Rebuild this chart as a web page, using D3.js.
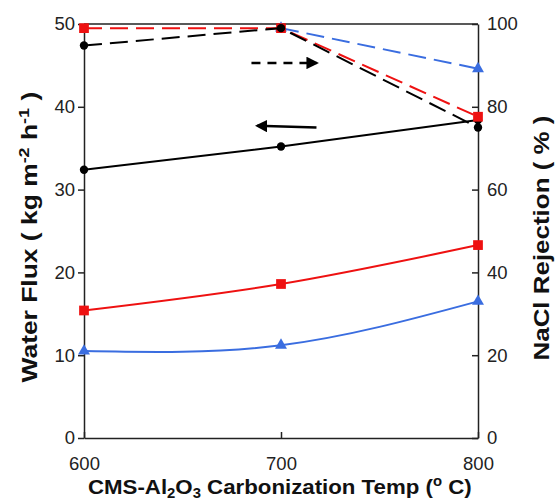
<!DOCTYPE html>
<html lang="en">
<head>
    <meta charset="UTF-8">
    <title>Water Flux and NaCl Rejection</title>
    <script src="https://d3js.org/d3.v7.min.js"></script>
    <style>
        body {
            margin: 0;
            padding: 0;
            background: #fff;
            font-family: "Liberation Sans", Arial, sans-serif;
        }
        svg {
            display: block;
        }
        .tick text {
            font-size: 18.5px;
            fill: #222;
        }
        .axis path,
        .axis line {
            stroke: #222;
            stroke-width: 1.5px;
        }
        .title {
            font-weight: bold;
            fill: #111;
        }
    </style>
</head>
<body>
    <svg id="chart" width="555" height="502"></svg>

    <script>
        // temperatures (x)
        const temps = [600, 700, 800];

        // water flux (left axis, solid lines)
        const fluxBlack = [32.4, 35.2, 38.4];
        const fluxRed = [15.4, 18.6, 23.3];
        const fluxBlue = [10.5, 11.2, 16.5];

        // NaCl rejection (right axis, dashed lines)
        const rejBlack = [94.8, 99.0, 75.0];
        const rejRed = [99.0, 99.0, 77.6];
        const rejBlue = [null, 99.0, 89.2];

        const fluxTicks = [0, 10, 20, 30, 40, 50];
        const rejTicks = [0, 20, 40, 60, 80, 100];

        const colors = { black: "#000000", red: "#ee1111", blue: "#3a6de0" };

        const svg = d3.select("#chart");
        const margin = { top: 24, right: 77, bottom: 64, left: 84 };
        const W = 555, H = 502;
        const width = W - margin.left - margin.right;
        const height = H - margin.top - margin.bottom;

        const g = svg.append("g")
            .attr("transform", `translate(${margin.left},${margin.top})`);

        const x = d3.scaleLinear().domain([600, 800]).range([0, width]);
        const yL = d3.scaleLinear().domain([0, 50]).range([height, 0]);
        const yR = d3.scaleLinear().domain([0, 100]).range([height, 0]);

        // top frame line
        g.append("line")
            .attr("x1", 0).attr("x2", width)
            .attr("y1", 0).attr("y2", 0)
            .attr("stroke", "#222").attr("stroke-width", 1.5);

        // axes
        g.append("g")
            .attr("class", "axis")
            .attr("transform", `translate(0,${height})`)
            .call(d3.axisBottom(x).tickValues(temps).tickSizeOuter(0))
            .call(a => a.selectAll(".tick line").attr("y2", -6))
            .call(a => a.selectAll(".tick text").attr("y", 32).attr("dy", 0));

        g.append("g")
            .attr("class", "axis")
            .call(d3.axisLeft(yL).tickValues(fluxTicks).tickSize(6).tickPadding(3).tickSizeOuter(0));

        g.append("g")
            .attr("class", "axis")
            .attr("transform", `translate(${width},0)`)
            .call(d3.axisRight(yR).tickValues(rejTicks).tickSize(-6).tickSizeOuter(0))
            .call(a => a.selectAll(".tick text").attr("x", 9));

        // series
        const series = [
            { vals: fluxBlack, y: yL, color: colors.black, dashed: false, shape: "circle" },
            { vals: fluxRed, y: yL, color: colors.red, dashed: false, shape: "square" },
            { vals: fluxBlue, y: yL, color: colors.blue, dashed: false, shape: "triangle" },
            { vals: rejBlue, y: yR, color: colors.blue, dashed: true, shape: "triangle" },
            { vals: rejRed, y: yR, color: colors.red, dashed: true, shape: "square" },
            { vals: rejBlack, y: yR, color: colors.black, dashed: true, shape: "circle" }
        ];

        const symbolOf = {
            circle: d3.symbol().type(d3.symbolCircle).size(55),
            square: d3.symbol().type(d3.symbolSquare).size(95),
            triangle: d3.symbol().type(d3.symbolTriangle).size(62)
        };

        series.forEach(s => {
            const pts = temps.map((t, i) => ({ t, v: s.vals[i] })).filter(d => d.v != null);
            const line = d3.line()
                .x(d => x(d.t))
                .y(d => s.y(d.v))
                .curve(s.dashed ? d3.curveLinear : d3.curveNatural);

            g.append("path")
                .datum(pts)
                .attr("fill", "none")
                .attr("stroke", s.color)
                .attr("stroke-width", 2)
                .attr("stroke-dasharray", s.dashed ? "18,8" : null)
                .attr("d", line);

            g.selectAll(null)
                .data(pts)
                .enter()
                .append("path")
                .attr("d", symbolOf[s.shape])
                .attr("transform", d => `translate(${x(d.t)},${s.y(d.v)})`)
                .attr("fill", s.color);
        });

        // direction arrows (data coordinates on flux axis)
        const arrows = [
            { x1: 685, y1: 45.3, x2: 718, y2: 45.3, dashed: true },
            { x1: 718, y1: 37.5, x2: 688, y2: 37.7, dashed: false }
        ];

        svg.append("defs").append("marker")
            .attr("id", "head")
            .attr("viewBox", "0 0 10 10")
            .attr("refX", 8).attr("refY", 5)
            .attr("markerWidth", 5).attr("markerHeight", 5)
            .attr("markerUnits", "strokeWidth")
            .attr("orient", "auto")
            .append("path")
            .attr("d", "M0,0 L10,5 L0,10 Z")
            .attr("fill", "#000");

        g.selectAll(".arrow")
            .data(arrows)
            .enter()
            .append("line")
            .attr("class", "arrow")
            .attr("x1", d => x(d.x1)).attr("y1", d => yL(d.y1))
            .attr("x2", d => x(d.x2)).attr("y2", d => yL(d.y2))
            .attr("stroke", "#000")
            .attr("stroke-width", 2.5)
            .attr("stroke-dasharray", d => d.dashed ? "9,7" : null)
            .attr("marker-end", "url(#head)");

        // titles: stretch along the reading direction to the reference length
        function fit(text, cx, cy, rotate, target) {
            const b = text.node().getBBox();
            const k = target / b.width;
            const mid = b.x + b.width / 2;
            text.attr("transform",
                `translate(${cx},${cy}) rotate(${rotate}) scale(${k},1) translate(${-mid},0)`);
        }

        function parts(text, list, small) {
            list.forEach(p => {
                const t = text.append("tspan").text(p.s);
                if (p.dy) {
                    t.attr("dy", p.dy).attr("font-size", small);
                } else if (p.back) {
                    t.attr("dy", p.back);
                }
            });
        }

        const xt = svg.append("text")
            .attr("class", "title")
            .attr("font-size", 21);
        parts(xt, [
            { s: "CMS-Al" }, { s: "2", dy: 4 }, { s: "O", back: -4 },
            { s: "3", dy: 4 }, { s: " Carbonization Temp (", back: -4 },
            { s: "o", dy: -8 }, { s: " C)", back: 8 }
        ], 14);
        fit(xt, 280, 494, 0, 384);

        const yt = svg.append("text")
            .attr("class", "title")
            .attr("font-size", 22);
        parts(yt, [
            { s: "Water Flux ( kg m" }, { s: "-2", dy: -8 }, { s: " h", back: 8 },
            { s: "-1", dy: -8 }, { s: " )", back: 8 }
        ], 15);
        fit(yt, 37, 237, -90, 291);

        const rt = svg.append("text")
            .attr("class", "title")
            .attr("font-size", 21.5)
            .text("NaCl Rejection ( % )");
        fit(rt, 549, 238, -90, 245);
    </script>
</body>
</html>
